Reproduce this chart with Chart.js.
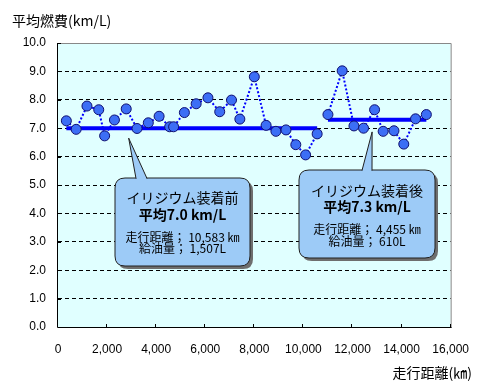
<!DOCTYPE html>
<html>
<head>
<meta charset="utf-8">
<script src="https://cdn.jsdelivr.net/npm/chart.js@4"></script>
<style>
html, body { margin: 0; padding: 0; background: #fff; }
#wrap { width: 484px; height: 392px; }
</style>
</head>
<body>
<div id="wrap"><canvas id="myChart" width="484" height="392"></canvas></div>
<script>
// 走行距離(km) と 平均燃費(km/L)
const beforeKm = [340, 740, 1180, 1660, 1900, 2300, 2780, 3220, 3680, 4120, 4550, 4710, 5150, 5630, 6110, 6590, 7070, 7410, 8000, 8480, 8880, 9290, 9690, 10090, 10560];
const beforeFuel = [7.26, 6.96, 7.78, 7.65, 6.73, 7.29, 7.68, 6.99, 7.19, 7.42, 7.05, 7.05, 7.55, 7.86, 8.07, 7.58, 7.99, 7.32, 8.81, 7.10, 6.89, 6.94, 6.42, 6.06, 6.80];
const afterKm = [11000, 11580, 12060, 12450, 12900, 13250, 13690, 14090, 14570, 15010];
const afterFuel = [7.48, 9.02, 7.08, 7.00, 7.65, 6.89, 6.91, 6.44, 7.33, 7.48];
const beforeAvg = 7.0;
const afterAvg = 7.3;

const xTicks = [0, 2000, 4000, 6000, 8000, 10000, 12000, 14000, 16000];
const yTicks = [0, 1, 2, 3, 4, 5, 6, 7, 8, 9, 10];

const yTitle = '平均燃費(km/L)';
const xTitle = '走行距離(㎞)';
const calloutBefore = ['イリジウム装着前', '平均7.0 km/L', '走行距離； 10,583 ㎞', '給油量； 1,507L'];
const calloutAfter = ['イリジウム装着後', '平均7.3 km/L', '走行距離； 4,455 ㎞', '給油量； 610L'];
// 吹き出しの指す位置 (km, km/L)
const calloutBeforeTip = [2880, 6.65];
const calloutAfterTip = [12800, 6.87];

const JP = "'Noto Sans CJK JP', sans-serif";
const NUM = "'Liberation Sans', Arial, sans-serif";

const toPts = (xs, ys) => xs.map((x, i) => ({ x: x, y: ys[i] }));

const pointStyle = {
    showLine: true,
    fill: false,
    borderColor: '#0000FF',
    borderWidth: 2,
    borderDash: [2, 2],
    pointRadius: 5,
    pointHoverRadius: 5,
    pointBackgroundColor: '#3C6EF5',
    pointBorderColor: '#101070',
    pointBorderWidth: 1,
    order: 1
};
const avgStyle = {
    showLine: true,
    fill: false,
    borderColor: '#0000FF',
    borderWidth: 4,
    pointRadius: 0,
    order: 2
};

const roundRect = (ctx, x, y, w, h, r) => {
    ctx.beginPath();
    ctx.moveTo(x + r, y);
    ctx.lineTo(x + w - r, y);
    ctx.quadraticCurveTo(x + w, y, x + w, y + r);
    ctx.lineTo(x + w, y + h - r);
    ctx.quadraticCurveTo(x + w, y + h, x + w - r, y + h);
    ctx.lineTo(x + r, y + h);
    ctx.quadraticCurveTo(x, y + h, x, y + h - r);
    ctx.lineTo(x, y + r);
    ctx.quadraticCurveTo(x, y, x + r, y);
    ctx.closePath();
};

const drawCallout = (chart, box, tip, baseX1, baseX2, lines, lineY) => {
    const ctx = chart.ctx;
    const tx = chart.scales.x.getPixelForValue(tip[0]);
    const ty = chart.scales.y.getPixelForValue(tip[1]);
    const fillCol = '#9DCBF7';
    ctx.save();
    // shadow
    ctx.fillStyle = '#6E6E6E';
    roundRect(ctx, box.x + 3, box.y + 3, box.w, box.h, 10);
    ctx.fill();
    // box
    ctx.fillStyle = fillCol;
    ctx.strokeStyle = '#202020';
    ctx.lineWidth = 1;
    roundRect(ctx, box.x, box.y, box.w, box.h, 10);
    ctx.fill();
    ctx.stroke();
    // pointer
    ctx.beginPath();
    ctx.moveTo(baseX1, box.y + 0.5);
    ctx.lineTo(tx, ty);
    ctx.lineTo(baseX2, box.y + 0.5);
    ctx.fill();
    ctx.stroke();
    ctx.fillRect(baseX1 + 1, box.y - 0.5, baseX2 - baseX1 - 2, 2);
    // text
    const cx = box.x + box.w / 2;
    ctx.fillStyle = '#000';
    ctx.textAlign = 'center';
    ctx.textBaseline = 'middle';
    const fonts = ['14px ' + JP, 'bold 14px ' + JP, '12px ' + JP, '12px ' + JP];
    lines.forEach((t, i) => {
        ctx.font = fonts[i];
        ctx.fillText(t, cx, box.y + lineY[i]);
    });
    ctx.restore();
};

const framePlugin = {
    id: 'frame',
    beforeDraw: (chart) => {
        const { ctx, chartArea: a } = chart;
        ctx.save();
        ctx.fillStyle = '#E0FFFF';
        ctx.fillRect(a.left, a.top, a.right - a.left, a.bottom - a.top);
        ctx.restore();
    },
    beforeDatasetsDraw: (chart) => {
        const { ctx, chartArea: a } = chart;
        ctx.save();
        ctx.lineWidth = 1;
        ctx.strokeStyle = '#888888';
        ctx.beginPath();
        ctx.moveTo(a.left, a.top + 0.5);
        ctx.lineTo(a.right + 0.5, a.top + 0.5);
        ctx.lineTo(a.right + 0.5, a.bottom);
        ctx.stroke();
        ctx.strokeStyle = '#000';
        ctx.beginPath();
        ctx.moveTo(a.left - 0.5, a.top);
        ctx.lineTo(a.left - 0.5, a.bottom + 0.5);
        ctx.lineTo(a.right + 1, a.bottom + 0.5);
        // inside tick marks
        xTicks.forEach(v => {
            const px = Math.round(chart.scales.x.getPixelForValue(v)) - 0.5;
            ctx.moveTo(px, a.bottom);
            ctx.lineTo(px, a.bottom - 3);
        });
        yTicks.forEach(v => {
            const py = Math.round(chart.scales.y.getPixelForValue(v)) + 0.5;
            ctx.moveTo(a.left, py);
            ctx.lineTo(a.left + 3, py);
        });
        ctx.stroke();
        // titles
        ctx.fillStyle = '#000';
        ctx.font = '14px ' + JP;
        ctx.textBaseline = 'middle';
        ctx.textAlign = 'left';
        ctx.fillText(yTitle, 12, 21);
        ctx.textAlign = 'right';
        ctx.fillText(xTitle, 472, 373);
        ctx.restore();
    },
    afterDraw: (chart) => {
        drawCallout(chart, { x: 115, y: 178, w: 135, h: 88 }, calloutBeforeTip, 136, 147,
            calloutBefore, [20, 37, 59, 70]);
        drawCallout(chart, { x: 299, y: 170, w: 136, h: 88 }, calloutAfterTip, 362, 372,
            calloutAfter, [21, 37, 59, 71]);
    }
};

let context = document.getElementById('myChart');
let chart = new Chart(context, {
    type: 'scatter',
    data: {
        datasets: [
            Object.assign({ label: 'before', data: toPts(beforeKm, beforeFuel) }, pointStyle),
            Object.assign({ label: 'after', data: toPts(afterKm, afterFuel) }, pointStyle),
            Object.assign({ label: 'avgBefore', data: toPts([beforeKm[0], beforeKm[beforeKm.length - 1]], [beforeAvg, beforeAvg]) }, avgStyle),
            Object.assign({ label: 'avgAfter', data: toPts([afterKm[0], afterKm[afterKm.length - 1]], [afterAvg, afterAvg]) }, avgStyle)
        ]
    },
    options: {
        responsive: false,
        animation: false,
        events: [],
        layout: { padding: { left: 0, top: 43, right: 27, bottom: 0 } },
        plugins: { legend: { display: false }, tooltip: { enabled: false } },
        scales: {
            x: {
                type: 'linear',
                min: 0,
                max: 16000,
                afterBuildTicks: (s) => { s.ticks = xTicks.map(v => ({ value: v })); },
                afterFit: (s) => { s.height = 65; },
                grid: { display: false, drawTicks: false },
                border: { display: false },
                ticks: {
                    padding: 15,
                    color: '#000',
                    font: { family: NUM, size: 12 },
                    maxRotation: 0,
                    callback: (v) => v.toLocaleString('en-US')
                }
            },
            y: {
                type: 'linear',
                min: 0,
                max: 10,
                afterBuildTicks: (s) => { s.ticks = yTicks.map(v => ({ value: v })); },
                afterFit: (s) => { s.width = 58; },
                grid: {
                    drawTicks: false,
                    lineWidth: 1,
                    color: (c) => (c.tick && c.tick.value > 0 && c.tick.value < 10) ? '#000' : 'rgba(0,0,0,0)'
                },
                border: { display: false, dash: [4, 3] },
                ticks: {
                    padding: 12,
                    color: '#000',
                    font: { family: NUM, size: 12 },
                    callback: (v) => v.toFixed(1)
                }
            }
        }
    },
    plugins: [framePlugin]
});
</script>
</body>
</html>
